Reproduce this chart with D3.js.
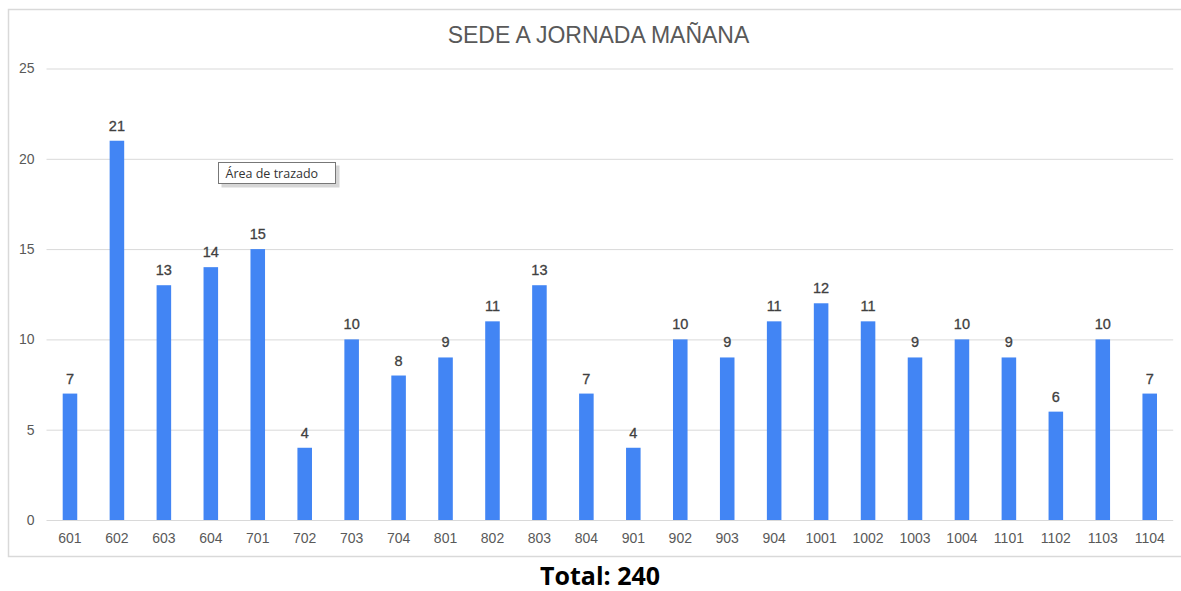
<!DOCTYPE html>
<html>
<head>
<meta charset="utf-8">
<script src="https://cdn.jsdelivr.net/npm/d3@7"></script>
<style>
  body { margin: 0; background: #fff; }
  text { font-family: Arial, "Liberation Sans", sans-serif; }
</style>
</head>
<body>
<div id="main"></div>
<script>
const ctx = {
    w: 1181,
    h: 591,
    LEFT: 46.5,
    RIGHT: 1173.2,
    Y0: 520,
    Y25: 68.5,
    BAR_FILL: "#4285F4",
    GRID: "#d9d9d9",
    TXT: "#595959"
};

// data
const grupos = ["601","602","603","604","701","702","703","704","801","802","803","804",
                "901","902","903","904","1001","1002","1003","1004","1101","1102","1103","1104"];
const estudiantes = [7,21,13,14,15,4,10,8,9,11,13,7,4,10,9,11,12,11,9,10,9,6,10,7];
const yTicks = [0,5,10,15,20,25];
const titulo = "SEDE A JORNADA MAÑANA";

function createViz(){
    let svg = d3.select("#main").append("svg")
        .attr("width", ctx.w)
        .attr("height", ctx.h);

    // chart frame (right edge falls outside the picture)
    svg.append("rect")
        .attr("x", 8.5).attr("y", 9.5)
        .attr("width", ctx.w).attr("height", 547)
        .attr("fill", "none")
        .attr("stroke", "#d9d9d9")
        .attr("stroke-width", 1.5);

    let xScale = d3.scaleBand()
        .domain(grupos)
        .range([ctx.LEFT, ctx.RIGHT])
        .paddingInner(0.69)
        .paddingOuter(0.345);
    let yScale = d3.scaleLinear()
        .domain([0, 25])
        .range([ctx.Y0, ctx.Y25]);

    // gridlines + y labels
    let yAxis = svg.append("g")
        .attr("transform", `translate(${ctx.LEFT},0)`)
        .call(d3.axisLeft(yScale).tickValues(yTicks)
                .tickSize(-(ctx.RIGHT - ctx.LEFT)).tickPadding(12));
    yAxis.select(".domain").remove();
    yAxis.selectAll(".tick line").attr("stroke", ctx.GRID);
    yAxis.selectAll(".tick text")
        .attr("fill", ctx.TXT)
        .style("font-size", "14px");

    // x labels
    let xAxis = svg.append("g")
        .attr("transform", `translate(0,${ctx.Y0})`)
        .call(d3.axisBottom(xScale).tickSize(0).tickPadding(13));
    xAxis.select(".domain").remove();
    xAxis.selectAll(".tick text")
        .attr("fill", ctx.TXT)
        .style("font-size", "14px");

    // bars
    svg.append("g").selectAll("rect")
        .data(estudiantes)
        .enter()
        .append("rect")
        .attr("x", (d, i) => xScale(grupos[i]))
        .attr("y", (d) => yScale(d))
        .attr("width", xScale.bandwidth())
        .attr("height", (d) => yScale(0) - yScale(d))
        .attr("fill", ctx.BAR_FILL);

    // data labels
    svg.append("g").selectAll("text")
        .data(estudiantes)
        .enter()
        .append("text")
        .attr("x", (d, i) => xScale(grupos[i]) + xScale.bandwidth() / 2)
        .attr("y", (d) => yScale(d) - 10)
        .attr("text-anchor", "middle")
        .attr("fill", "#404040")
        .attr("stroke", "#404040")
        .attr("stroke-width", 0.3)
        .style("font-size", "14.5px")
        .text((d) => d);

    // title
    svg.append("text")
        .attr("x", 598.5)
        .attr("y", 43)
        .attr("text-anchor", "middle")
        .attr("fill", ctx.TXT)
        .style("font-size", "23px")
        .text(titulo);

    // "Área de trazado" tooltip
    let tip = svg.append("g").attr("transform", "translate(218.5,162.5)");
    tip.append("rect")
        .attr("x", 3).attr("y", 3)
        .attr("width", 118).attr("height", 22)
        .attr("fill", "#bbb").attr("opacity", 0.6);
    tip.append("rect")
        .attr("width", 117).attr("height", 21)
        .attr("fill", "#fff")
        .attr("stroke", "#777");
    tip.append("text")
        .attr("x", 7).attr("y", 15)
        .attr("fill", "#333")
        .style("font-family", "'Open Sans', sans-serif")
        .style("font-size", "12.5px")
        .text("Área de trazado");

    // total below the chart
    svg.append("text")
        .attr("x", 600)
        .attr("y", 585)
        .attr("text-anchor", "middle")
        .attr("fill", "#000")
        .style("font-family", "'Open Sans', sans-serif")
        .style("font-weight", "bold")
        .style("font-size", "25px")
        .text("Total: " + d3.sum(estudiantes));
}

createViz();
</script>
</body>
</html>
